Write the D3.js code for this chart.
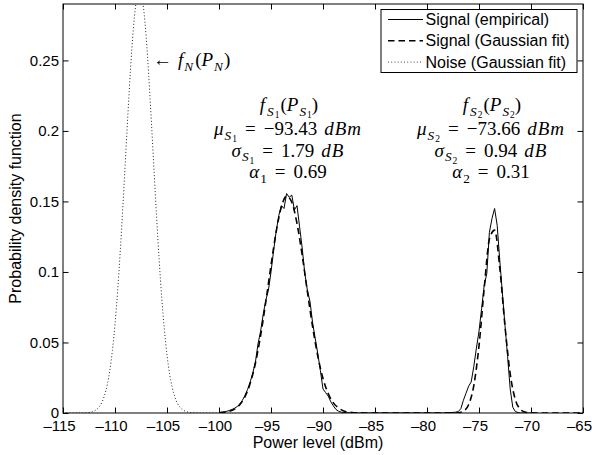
<!DOCTYPE html>
<html>
<head>
<meta charset="utf-8">
<script src="https://cdn.jsdelivr.net/npm/d3@7"></script>
<style>
  body { margin: 0; background: #fff; }
  svg { display: block; font-family: "Liberation Sans", Arial, sans-serif; }
  .math { font-family: "Liberation Serif", "Times New Roman", serif; }
</style>
</head>
<body>
<svg id="chart" width="592" height="455"></svg>
<script>
// Empirical signal histogram (dBm grid from -100 in 0.25 steps)
const empStart = -100, empStep = 0.25;
const empDensity = [
  0.0003, 0.0006, 0.0008, 0.0012, 0.0018, 0.0025, 0.0034, 0.0046, 0.0064, 0.0090,
  0.0125, 0.0168, 0.0220, 0.0285, 0.0360, 0.0490, 0.0580, 0.0700, 0.0800, 0.0870,
  0.1000, 0.1150, 0.1290, 0.1400, 0.1470, 0.1450, 0.1556, 0.1530, 0.1545, 0.1440,
  0.1470, 0.1320, 0.1170, 0.0990, 0.0870, 0.0790, 0.0640, 0.0530, 0.0420, 0.0300,
  0.0170, 0.0145, 0.0120, 0.0080, 0.0050, 0.0025, 0.0012, 0.0006, 0.0003,
  0.0002, 0.0001, 0, 0.0001, 0, 0, 0, 0, 0, 0,
  0, 0, 0, 0, 0, 0, 0, 0, 0, 0,
  0, 0, 0, 0, 0, 0, 0, 0, 0, 0,
  0, 0, 0, 0, 0, 0, 0, 0, 0.0001, 0.0002,
  0.0003, 0.0004, 0.0006,
  0.0010, 0.0030, 0.0090, 0.0140, 0.0190, 0.0220, 0.0330, 0.0460, 0.0580, 0.0740,
  0.0905, 0.0990, 0.1280, 0.1380, 0.1450, 0.1330, 0.1080, 0.0850, 0.0620, 0.0400,
  0.0170, 0.0040, 0.0010, 0.0003, 0, 0, 0, 0, 0
];

// Gaussian mixture fit (grid from -100 in 0.5 steps)
const fitStart = -100, fitStep = 0.5;
const fitDensity = [
  0.0002, 0.0005, 0.0012, 0.0028, 0.0059, 0.0116, 0.0210, 0.0353, 0.0549, 0.0788,
  0.1047, 0.1286, 0.1462, 0.1537, 0.1494, 0.1344, 0.1118, 0.0860, 0.0612, 0.0403,
  0.0245, 0.0138, 0.0072, 0.0035, 0.0015, 0.0006, 0.0002, 0.0001,
  0, 0, 0, 0, 0, 0, 0, 0, 0, 0, 0, 0, 0, 0, 0, 0, 0,
  0.0000, 0.0002, 0.0014, 0.0059, 0.0194, 0.0476, 0.0883, 0.1233, 0.1297, 0.1028,
  0.0615, 0.0277, 0.0094, 0.0024, 0.0005, 0.0001,
  0, 0, 0, 0, 0, 0, 0, 0, 0, 0
];

// Noise Gaussian fit (grid from -115 in 0.25 steps)
const noiseStart = -115, noiseStep = 0.25;
const noiseDensity = [
  0, 0, 0, 0, 0, 0.00001, 0.00002, 0.00004, 0.00009, 0.00019,
  0.00039, 0.00076, 0.00143, 0.0026, 0.00455, 0.0077, 0.0126, 0.0198, 0.0302, 0.0444,
  0.0630, 0.0862, 0.1140, 0.1455, 0.1792, 0.2131, 0.2446, 0.2710, 0.2898, 0.2992,
  0.2981, 0.2867, 0.2663, 0.2386, 0.2064, 0.1724, 0.1390, 0.1081, 0.0812, 0.0589,
  0.0412, 0.0278, 0.0181, 0.0114, 0.0069, 0.0041, 0.0023, 0.0013, 0.00067, 0.00034,
  0.00017, 0.00008, 0.00004, 0.00002, 0.00001, 0, 0, 0, 0, 0, 0
];

const fitMu = ['−93.43', '−73.66'];
const fitSigma = ['1.79', '0.94'];
const fitAlpha = ['0.69', '0.31'];

const xTicks = [-115, -110, -105, -100, -95, -90, -85, -80, -75, -70, -65];
const xTickLabels = ['–115', '–110', '–105', '–100', '–95', '–90', '–85', '–80', '–75', '–70', '–65'];
const yTicks = [0, 0.05, 0.1, 0.15, 0.2, 0.25];
const yTickLabels = ['0', '0.05', '0.1', '0.15', '0.2', '0.25'];
const legendLabels = ['Signal (empirical)', 'Signal (Gaussian fit)', 'Noise (Gaussian fit)'];

const margin = { left: 63, right: 9, top: 4, bottom: 42 };
const W = 592, H = 455;
const plotR = W - margin.right, plotB = H - margin.bottom;

const svg = d3.select('#chart');
const x = d3.scaleLinear().domain([-115, -65]).range([margin.left, plotR]);
const y = d3.scaleLinear().domain([0, 0.29]).range([plotB, margin.top]);

svg.append('defs').append('clipPath').attr('id', 'plotclip')
  .append('rect')
  .attr('x', margin.left).attr('y', margin.top)
  .attr('width', plotR - margin.left).attr('height', plotB - margin.top);

const toPoints = (start, step, vals) => vals.map((v, i) => [start + i * step, v]);

const line = d3.line().x(d => x(d[0])).y(d => y(d[1]));
const smooth = d3.line().x(d => x(d[0])).y(d => y(d[1])).curve(d3.curveMonotoneX);

const curves = svg.append('g').attr('clip-path', 'url(#plotclip)').attr('fill', 'none');

curves.append('path')
  .attr('d', line(toPoints(empStart, empStep, empDensity)))
  .attr('stroke', '#000').attr('stroke-width', 1);

curves.append('path')
  .attr('d', smooth(toPoints(fitStart, fitStep, fitDensity)))
  .attr('stroke', '#000').attr('stroke-width', 1.6).attr('stroke-dasharray', '6.5,4');

curves.append('path')
  .attr('d', smooth(toPoints(noiseStart, noiseStep, noiseDensity)))
  .attr('stroke', '#222').attr('stroke-width', 1).attr('stroke-dasharray', '1,2.2');

// Axes (MATLAB style: ticks inside on all four sides)
const tick = 5.5;
function styleAxis(g) {
  g.attr('font-family', null).attr('font-size', 15);
  g.select('.domain').remove();
  g.selectAll('.tick line').attr('stroke', '#000');
  g.selectAll('.tick text').attr('fill', '#000');
}

svg.append('g').attr('transform', `translate(0,${plotB})`)
  .call(d3.axisBottom(x).tickValues(xTicks).tickFormat((d, i) => xTickLabels[i])
    .tickSizeInner(-tick).tickSizeOuter(0).tickPadding(7))
  .call(styleAxis)
  .call(g => g.selectAll('.tick text').attr('dx', -4));

svg.append('g').attr('transform', `translate(0,${margin.top})`)
  .call(d3.axisTop(x).tickValues(xTicks).tickFormat('').tickSizeInner(-tick).tickSizeOuter(0))
  .call(styleAxis);

svg.append('g').attr('transform', `translate(${margin.left},0)`)
  .call(d3.axisLeft(y).tickValues(yTicks).tickFormat((d, i) => yTickLabels[i])
    .tickSizeInner(-tick).tickSizeOuter(0).tickPadding(4))
  .call(styleAxis);

svg.append('g').attr('transform', `translate(${plotR},0)`)
  .call(d3.axisRight(y).tickValues(yTicks).tickFormat('').tickSizeInner(-tick).tickSizeOuter(0))
  .call(styleAxis);

svg.append('rect')
  .attr('x', margin.left).attr('y', margin.top)
  .attr('width', plotR - margin.left).attr('height', plotB - margin.top)
  .attr('fill', 'none').attr('stroke', '#000').attr('stroke-width', 1);

// Axis labels
svg.append('text')
  .attr('x', 318).attr('y', 448)
  .attr('text-anchor', 'middle').attr('font-size', 16)
  .text('Power level (dBm)');

svg.append('text')
  .attr('transform', `translate(21,${(margin.top + plotB) / 2}) rotate(-90)`)
  .attr('text-anchor', 'middle').attr('font-size', 16)
  .text('Probability density function');

// Legend
const leg = svg.append('g');
leg.append('rect')
  .attr('x', 381).attr('y', 9.5).attr('width', 196).attr('height', 63)
  .attr('fill', '#fff').attr('stroke', '#000').attr('stroke-width', 1);
const legDash = [null, '6.5,4', '1,2.2'];
const legWidth = [1, 1.6, 1];
legendLabels.forEach((lab, i) => {
  const cy = 19.5 + i * 21.3;
  leg.append('line')
    .attr('x1', 388).attr('x2', 423).attr('y1', cy).attr('y2', cy)
    .attr('stroke', i === 2 ? '#444' : '#000').attr('stroke-width', legWidth[i])
    .attr('stroke-dasharray', legDash[i]);
  leg.append('text')
    .attr('x', 425.5).attr('y', cy + 5.5).attr('font-size', 16)
    .text(lab);
});

// LaTeX-like annotations
const mathSize = 19;
function mathText(px, py, parts, anchor) {
  const t = svg.append('text').attr('class', 'math')
    .attr('x', px).attr('y', py)
    .attr('text-anchor', anchor || 'middle')
    .attr('font-size', mathSize);
  let shift = 0;
  parts.forEach(p => {
    const lvl = p.sub || 0;
    const target = [0, 4.5, 7][lvl];
    const size = [mathSize, mathSize * 0.7, mathSize * 0.5][lvl];
    t.append('tspan')
      .attr('dy', target - shift)
      .attr('dx', p.dx || 0)
      .attr('font-size', size)
      .attr('font-style', p.it ? 'italic' : null)
      .attr('letter-spacing', p.it ? 1 : null)
      .text(p.t);
    shift = target;
  });
}

function density(k) {
  return [
    { t: 'f', it: true, dx: 1 }, { t: 'S', it: true, sub: 1, dx: 1 }, { t: k, sub: 2 },
    { t: '(', dx: 1 }, { t: 'P', it: true }, { t: 'S', it: true, sub: 1 }, { t: k, sub: 2 }, { t: ')' }
  ];
}

const annX = [288, 491];
const annY = [111, 135, 156.5, 178];
[0, 1].forEach(j => {
  const k = String(j + 1);
  mathText(annX[j], annY[0], density(k));
  mathText(annX[j], annY[1], [
    { t: 'μ', it: true }, { t: 'S', it: true, sub: 1 }, { t: k, sub: 2 },
    { t: '=', dx: 8 }, { t: fitMu[j], dx: 8 }, { t: 'dBm', it: true, dx: 7 }
  ]);
  mathText(annX[j], annY[2], [
    { t: 'σ', it: true }, { t: 'S', it: true, sub: 1 }, { t: k, sub: 2 },
    { t: '=', dx: 8 }, { t: fitSigma[j], dx: 8 }, { t: 'dB', it: true, dx: 7 }
  ]);
  mathText(annX[j], annY[3], [
    { t: 'α', it: true }, { t: k, sub: 1 },
    { t: '=', dx: 8 }, { t: fitAlpha[j], dx: 8 }
  ]);
});

mathText(153, 66, [
  { t: '←' }, { t: 'f', it: true, dx: 6 }, { t: 'N', it: true, sub: 1 },
  { t: '(', dx: 1 }, { t: 'P', it: true }, { t: 'N', it: true, sub: 1 }, { t: ')' }
], 'start');
</script>
</body>
</html>
